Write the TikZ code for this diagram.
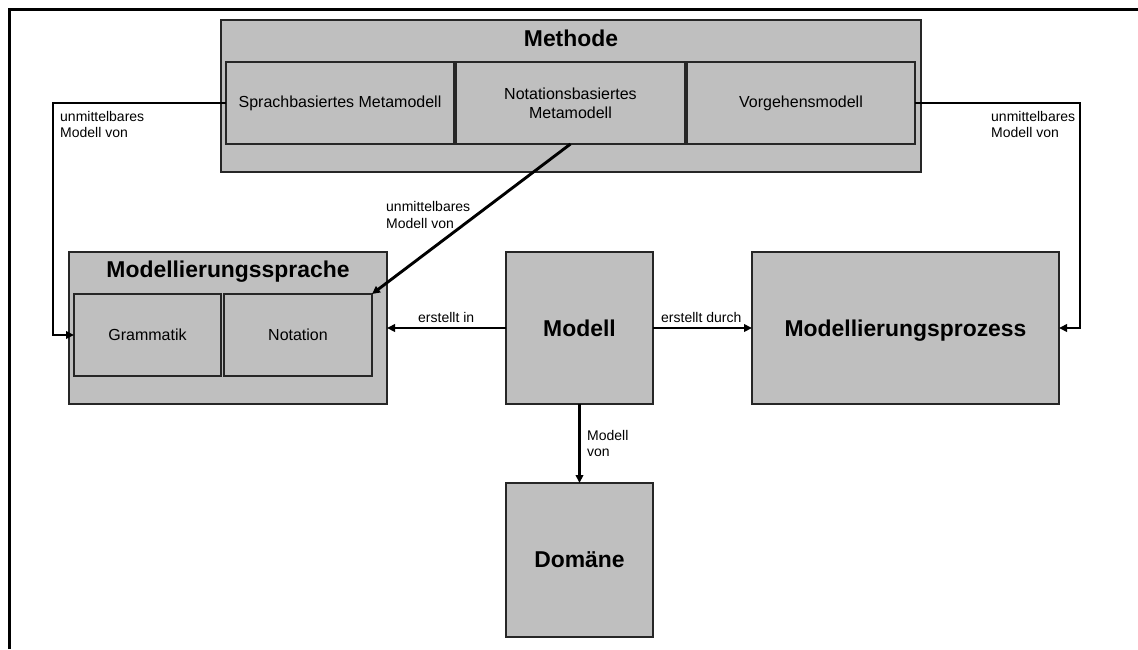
\documentclass[tikz,border=0pt]{standalone}
\usepackage{fontspec}
\setmainfont{Liberation Sans}
\usetikzlibrary{arrows.meta}
\definecolor{boxgray}{HTML}{BFBFBF}
\definecolor{edgegray}{HTML}{262626}
\begin{document}
\begin{tikzpicture}[x=1pt,y=-1pt,
  box/.style={draw=edgegray, line width=1.6pt, fill=boxgray, inner sep=0pt, outer sep=0pt},
  part/.style={box, font=\fontsize{16}{19}\selectfont, align=center},
  bigbox/.style={box, font=\bfseries\fontsize{22.9}{27}\selectfont},
  boxtitle/.style={font=\bfseries\fontsize{22.9}{27}\selectfont, inner sep=0pt},
  conn/.style={line width=2.9pt, -{Triangle[length=8pt,width=7.5pt]}},
  lbl/.style={font=\fontsize{14}{16.6}\selectfont, align=left, inner sep=0pt}
]
\useasboundingbox (0,0) rectangle (1138,649);
\draw[line width=3pt] (9,649) -- (9,9) -- (1138,9);

% Methode with its three parts
\node[box, minimum width=700pt, minimum height=152pt] (methode) at (571,96) {};
\node[boxtitle, anchor=base] (methodeT) at (571,46) {Methode};
\node[part, minimum width=228pt, minimum height=82pt] (sprach) at (340,103) {Sprachbasiertes Metamodell};
\node[part, minimum width=229pt, minimum height=82pt] (notmeta) at (570.5,103) {Notationsbasiertes\\Metamodell};
\node[part, minimum width=228pt, minimum height=82pt] (vorgehen) at (801,103) {Vorgehensmodell};

% Modellierungssprache with grammar and notation
\node[box, minimum width=318pt, minimum height=152pt] (sprache) at (228,328) {};
\node[boxtitle, anchor=base] (spracheT) at (228,277.7) {Modellierungssprache};
\node[part, minimum width=147pt, minimum height=82pt] (gram) at (147.5,335) {Grammatik};
\node[part, minimum width=148pt, minimum height=82pt] (nota) at (298,335) {Notation};

% Model, process and domain
\node[bigbox, minimum width=147pt, minimum height=152pt] (modell) at (579.5,328) {Modell};
\node[bigbox, minimum width=307pt, minimum height=152pt, text depth=0pt] (prozess) at (905.5,328) {Modellierungsprozess};
\node[bigbox, minimum width=147pt, minimum height=154pt] (domaene) at (579.5,560) {Domäne};

% connectors
\coordinate (lbend) at (53,103);
\coordinate (rbend) at (1080,103);
\draw[conn] (sprach.west) -- (lbend) |- (gram.west);
\draw[conn] (vorgehen.east) -- (rbend) |- (prozess.east);
\draw[conn] (notmeta.south) -- (nota.north east);
\draw[conn] (modell.west) -- (sprache.east);
\draw[conn] (modell.east) -- (prozess.west);
\draw[conn] (modell.south) -- (domaene.north);

% connector labels
\node[lbl, anchor=west] (lblL) at (60,124.3) {unmittelbares\\Modell von};
\node[lbl, anchor=west] (lblR) at (991,124.3) {unmittelbares\\Modell von};
\node[lbl, anchor=west] (lblM) at (386,215) {unmittelbares\\Modell von};
\node[lbl, anchor=base west] (lblIn) at (418,322) {erstellt in};
\node[lbl, anchor=base west] (lblDurch) at (661,322) {erstellt durch};
\node[lbl, anchor=west] (lblVon) at (587,443.5) {Modell\\von};
\end{tikzpicture}
\end{document}
